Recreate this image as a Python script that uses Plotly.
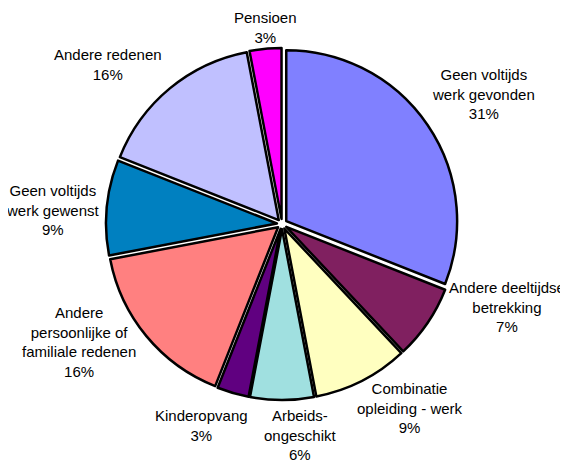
import math
import plotly.graph_objects as go

labels = [
    "Geen voltijds<br>werk gevonden",
    "Andere deeltijdse<br>betrekking",
    "Combinatie<br>opleiding - werk",
    "Arbeids-<br>ongeschikt",
    "Kinderopvang",
    "Andere<br>persoonlijke of<br>familiale redenen",
    "Geen voltijds<br>werk gewenst",
    "Andere redenen",
    "Pensioen",
]
values = [31, 7, 9, 6, 3, 16, 9, 16, 3]
colors = ["#8080FF", "#802060", "#FFFFC0", "#A0E0E0", "#600080",
          "#FF8080", "#0080C0", "#C0C0FF", "#FF00FF"]

# label nudges in px (x right, y down) from the slice's outer edge, like the excel chart
label_shift = [(56, -31), (79, -16), (48, 27), (18, 35), (-31, 32),
               (-67, 6), (-54, 3), (-62, -24), (0, -21)]

# page body has an 8px margin, so the figure is 8px smaller than the window
W, H = 560, 455
dom_x = [0.1750, 0.8036]
dom_y = [0.1385, 0.9121]

fig = go.Figure(go.Pie(
    labels=labels,
    values=values,
    sort=False,
    direction="clockwise",
    rotation=0,
    pull=0.03,
    marker=dict(colors=colors, line=dict(color="black", width=2.5)),
    textinfo="none",
    showlegend=False,
    hoverinfo="label+percent",
    domain=dict(x=dom_x, y=dom_y),
))

# label positions: mid angle of each slice
cx = (dom_x[0] + dom_x[1]) / 2 * W
cy = (1 - (dom_y[0] + dom_y[1]) / 2) * H
rad = (dom_x[1] - dom_x[0]) * W / 2
total = sum(values)
cum = 0
for lab, v, (dx, dy) in zip(labels, values, label_shift):
    mid = (cum + v / 2) / total * 2 * math.pi
    cum += v
    px = cx + rad * math.sin(mid) + dx
    py = cy - rad * math.cos(mid) + dy
    fig.add_annotation(
        x=px / W, y=1 - py / H, xref="paper", yref="paper",
        text=f"{lab}<br>{round(100 * v / total)}%",
        showarrow=False, xanchor="center", yanchor="middle",
        font=dict(family="Liberation Sans, Arial", size=15, color="black"),
    )

fig.update_layout(
    width=W, height=H,
    margin=dict(l=0, r=0, t=0, b=0),
    paper_bgcolor="white",
    plot_bgcolor="white",
)

fig.write_html("out.html")
